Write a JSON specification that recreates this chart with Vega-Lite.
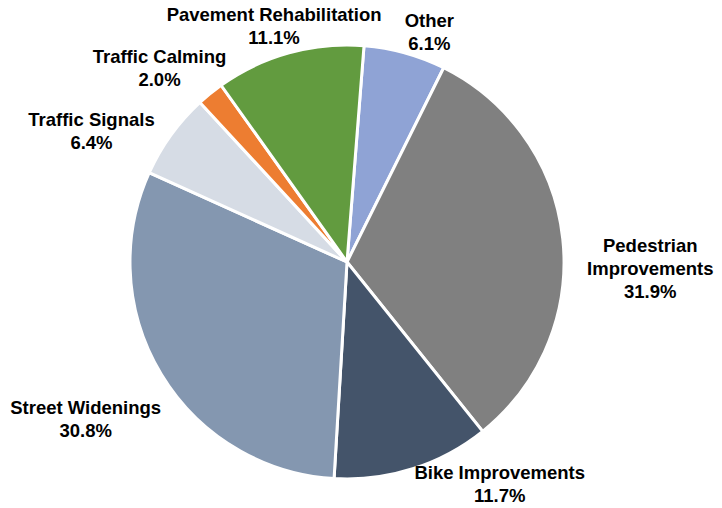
{
  "$schema": "https://vega.github.io/schema/vega-lite/v6.json",
  "width": 694,
  "height": 492,
  "autosize": {"type": "none"},
  "padding": {"left": 0, "top": 16, "right": 28, "bottom": 0},
  "view": {"stroke": null},
  "config": {
    "style": {
      "lbl": {"font": "Liberation Sans", "fontSize": 18.5, "fontWeight": "bold", "lineBreak": "\n", "align": "center", "baseline": "middle", "lineHeight": 23, "fill": "black"}
    }
  },
  "data": {
    "values": [
      {"idx": 1, "cat": "Other", "label": "Other\n6.1%", "pct": 6.1},
      {"idx": 2, "cat": "Pedestrian Improvements", "label": "Pedestrian\nImprovements\n31.9%", "pct": 31.9},
      {"idx": 3, "cat": "Bike Improvements", "label": "Bike Improvements\n11.7%", "pct": 11.7},
      {"idx": 4, "cat": "Street Widenings", "label": "Street Widenings\n30.8%", "pct": 30.8},
      {"idx": 5, "cat": "Traffic Signals", "label": "Traffic Signals\n6.4%", "pct": 6.4},
      {"idx": 6, "cat": "Traffic Calming", "label": "Traffic Calming\n2.0%", "pct": 2.0},
      {"idx": 7, "cat": "Pavement Rehabilitation", "label": "Pavement Rehabilitation\n11.1%", "pct": 11.1}
    ]
  },
  "encoding": {
    "theta": {"field": "pct", "type": "quantitative", "stack": true, "scale": {"range": [0.0785, 6.3617]}},
    "order": {"field": "idx", "type": "quantitative"}
  },
  "layer": [
    {
      "mark": {"type": "arc", "outerRadius": 217, "stroke": "white", "strokeWidth": 3},
      "encoding": {
        "color": {
          "field": "cat", "type": "nominal", "legend": null,
          "scale": {
            "domain": ["Other", "Pedestrian Improvements", "Bike Improvements", "Street Widenings", "Traffic Signals", "Traffic Calming", "Pavement Rehabilitation"],
            "range": ["#8FA3D5", "#808080", "#44546A", "#8497B0", "#D6DCE5", "#ED7D31", "#629B3F"]
          }
        }
      }
    },
    {
      "mark": {"type": "text", "style": "lbl", "radius": 245, "dx": 17, "dy": -5},
      "encoding": {"text": {"condition": {"test": "datum.cat === 'Other'", "field": "label"}, "value": ""}}
    },
    {
      "mark": {"type": "text", "style": "lbl", "radius": 247, "dx": -7, "dy": -9},
      "encoding": {"text": {"condition": {"test": "datum.cat === 'Pavement Rehabilitation'", "field": "label"}, "value": ""}}
    },
    {
      "mark": {"type": "text", "style": "lbl", "radius": 269, "dx": -18, "dy": 4},
      "encoding": {"text": {"condition": {"test": "datum.cat === 'Traffic Calming'", "field": "label"}, "value": ""}}
    },
    {
      "mark": {"type": "text", "style": "lbl", "radius": 288, "dx": -22, "dy": 27},
      "encoding": {"text": {"condition": {"test": "datum.cat === 'Traffic Signals'", "field": "label"}, "value": ""}}
    },
    {
      "mark": {"type": "text", "style": "lbl", "radius": 303, "dx": -2, "dy": -11},
      "encoding": {"text": {"condition": {"test": "datum.cat === 'Street Widenings'", "field": "label"}, "value": ""}}
    },
    {
      "mark": {"type": "text", "style": "lbl", "radius": 303, "dx": 2, "dy": 16},
      "encoding": {"text": {"condition": {"test": "datum.cat === 'Pedestrian Improvements'", "field": "label"}, "value": ""}}
    },
    {
      "mark": {"type": "text", "style": "lbl", "radius": 240, "dx": 80, "dy": -18},
      "encoding": {"text": {"condition": {"test": "datum.cat === 'Bike Improvements'", "field": "label"}, "value": ""}}
    }
  ]
}
